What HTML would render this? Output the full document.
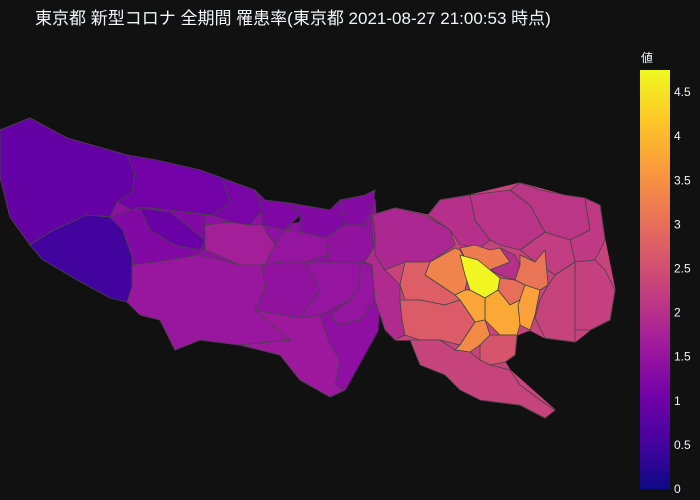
<!DOCTYPE html>
<html><head><meta charset="utf-8">
<style>
html,body{margin:0;padding:0;background:#111111;}
#wrap{position:relative;width:700px;height:500px;background:#111111;overflow:hidden;font-family:"Liberation Sans","Noto Sans CJK JP",sans-serif;}
#title{position:absolute;left:35px;top:4px;color:#f2f5fa;font-size:17px;white-space:nowrap;}
</style></head>
<body>
<div id="wrap">
<div id="title">東京都 新型コロナ 全期間 罹患率(東京都 2021-08-27 21:00:53 時点)</div>
<svg id="svg" width="700" height="500" style="position:absolute;left:0;top:0"></svg>
</div>
<script>
const regionNames=["okutama","hinohara","ome","hinode-band","hinode","hachioji","machida","mizuho","hamura","higashimurayama","kiyose","tachikawa","kodaira","nishitokyo","hino-tama","fuchu","inagi-chofu","western-wards-border","nerima","itabashi","kita","adachi","katsushika","edogawa","arakawa","koto-sumida","toshima","bunkyo","taito","nakano","shinjuku","chiyoda","chuo","minato","shibuya","suginami","setagaya","meguro","shinagawa","ota"];
const values=[0.9,0.5,1.05,1.25,0.95,1.55,1.6,1.15,1.2,1.25,1.3,1.7,1.5,1.45,1.45,1.5,1.5,1.9,1.85,2.0,2.05,2.1,2.15,2.25,2.2,2.3,3.2,2.0,3.1,3.3,4.7,3.0,3.7,3.8,3.75,2.75,2.7,3.4,2.6,2.3];
const backdropValues=[1.4,2.3];
const colorTicks=[0,0.5,1,1.5,2,2.5,3,3.5,4,4.5];
const tickLabels=["0","0.5","1","1.5","2","2.5","3","3.5","4","4.5"];
const cMin=0,cMax=4.75;
// geometry (map outlines)
const backdrops=[
"0,130 30,118 67,138 127,155 200,170 222,178 230,203 267,215 287,225 333,215 370,193 375,200 376,215 380,270 378,330 345,390 330,397 300,380 280,355 240,345 200,340 175,350 160,320 127,302 43,260 30,245 10,217 0,177",
"372,215 395,208 428,215 440,200 470,195 520,183 600,205 605,240 615,290 610,320 590,330 575,342 545,338 530,330 517,335 515,355 505,362 510,370 555,410 545,418 520,405 480,400 445,375 410,340 395,340 380,300 376,260"
];
const shapes=[
"0,130 30,118 67,138 127,155 135,173 132,193 117,202 110,217 87,215 50,232 30,245 10,217 0,177",
"30,245 50,232 87,215 110,217 123,230 132,257 132,287 127,302 110,298 77,280 43,260",
"127,155 157,160 200,170 222,178 230,203 212,215 170,210 140,215 117,202 132,193 135,173",
"110,217 140,207 170,210 205,215 205,250 180,262 150,265 135,270 132,257 123,230",
"140,208 170,212 205,240 200,250 175,245 150,230",
"132,287 132,265 155,262 200,255 240,265 265,265 265,290 255,310 300,318 290,340 240,345 200,340 175,350 160,320 140,315 127,302",
"255,310 300,318 320,315 330,345 340,360 335,385 345,390 330,397 300,380 280,355 240,345 290,340",
"222,178 255,190 262,210 250,225 230,222 212,215 230,203",
"255,190 265,200 290,203 300,215 285,230 262,225 262,210",
"290,203 330,210 340,200 345,225 325,238 300,232 300,215",
"340,200 365,195 375,190 372,210 365,225 345,225",
"230,222 250,225 262,225 275,245 265,265 240,265 205,250 205,225",
"275,245 285,230 300,232 325,238 330,255 305,262 280,262 265,265",
"325,238 345,225 365,225 375,245 365,262 330,262",
"262,265 280,262 305,262 325,270 320,290 300,318 255,310 265,290",
"305,262 330,262 360,262 360,285 350,300 320,315 300,318 320,290",
"360,262 372,265 375,300 360,320 338,325 330,315 350,300 360,285",
"375,230 375,255 385,270 400,285 400,300 402,320 405,335 395,340 385,330 375,300 372,265 365,262 375,245 372,215",
"372,215 395,208 425,215 450,230 455,245 430,262 405,262 385,270 375,255 375,230",
"428,215 440,200 470,195 475,220 490,240 480,248 460,245 450,230",
"470,195 510,190 530,205 545,232 520,250 500,245 490,240 475,220",
"510,190 520,183 540,190 565,195 585,198 590,230 570,240 545,232 530,205",
"585,198 600,205 605,240 595,260 575,262 570,240 590,230",
"595,260 605,270 615,290 610,320 590,330 575,330 575,300 575,262",
"545,232 570,240 575,262 555,275 535,262 520,250",
"555,275 575,262 575,330 575,342 560,340 545,338 535,318 540,300 548,285",
"460,248 475,245 490,250 500,248 510,262 490,270 470,268",
"500,248 515,255 520,265 515,280 500,275 490,270 510,262",
"520,255 535,262 545,250 548,285 540,290 525,285 515,280 520,265",
"430,262 455,248 460,250 470,268 465,290 455,295 440,285 425,275",
"460,255 478,260 490,270 500,278 498,290 485,298 470,290 465,275",
"500,278 515,280 525,285 520,300 510,305 498,290",
"525,285 540,290 535,315 530,330 520,325 518,305",
"498,290 510,305 520,300 518,305 520,325 517,335 500,335 485,320 485,298",
"455,295 465,290 470,290 485,298 485,320 475,322 460,300",
"405,262 430,262 425,275 440,285 455,295 460,300 445,305 420,300 405,300 400,285",
"400,300 420,300 445,305 460,300 475,322 460,345 440,340 420,340 405,335 402,320",
"460,345 475,322 485,320 490,335 480,345 470,352 455,350",
"480,345 490,335 500,335 517,335 515,355 505,362 490,365 480,360",
"410,340 440,340 455,350 470,352 480,360 490,365 510,370 520,385 540,400 555,410 545,418 520,405 480,400 460,390 445,375 420,365"
];
const stops=[[0,"#0d0887"],[0.111,"#46039f"],[0.222,"#7201a8"],[0.333,"#9c179e"],[0.444,"#bd3786"],[0.555,"#d8576b"],[0.666,"#ed7953"],[0.777,"#fb9f3a"],[0.888,"#fdca26"],[1,"#f0f921"]];
function hex(h){return [1,3,5].map(i=>parseInt(h.substr(i,2),16));}
function colorFor(v){
  let t=Math.max(0,Math.min(1,(v-cMin)/(cMax-cMin)));
  for(let i=1;i<stops.length;i++){
    if(t<=stops[i][0]){
      const a=hex(stops[i-1][1]),b=hex(stops[i][1]);
      const f=(t-stops[i-1][0])/(stops[i][0]-stops[i-1][0]);
      return "rgb("+a.map((x,k)=>Math.round(x+(b[k]-x)*f)).join(",")+")";
    }
  }
  return stops[stops.length-1][1];
}
const NS="http://www.w3.org/2000/svg";
const svg=document.getElementById("svg");
for(let i=0;i<backdrops.length;i++){
  const b=document.createElementNS(NS,"polygon");
  b.setAttribute("points",backdrops[i]);
  b.setAttribute("fill",colorFor(backdropValues[i]));
  b.setAttribute("stroke",colorFor(backdropValues[i]));
  b.setAttribute("stroke-width","1");
  
  
  svg.appendChild(b);
}
for(let i=0;i<shapes.length;i++){
  const p=document.createElementNS(NS,"polygon");
  p.setAttribute("points",shapes[i]);
  p.setAttribute("fill",colorFor(values[i]));
  p.setAttribute("stroke","#444444");
  p.setAttribute("stroke-width","0.8");
  
  
  svg.appendChild(p);
}
// colorbar
const cbX=640,cbW=30,cbTop=70,cbBot=489;
function yScale(v){return cbBot-(v-cMin)/(cMax-cMin)*(cbBot-cbTop);}
const defs=document.createElementNS(NS,"defs");
const lg=document.createElementNS(NS,"linearGradient");
lg.setAttribute("id","plasma");lg.setAttribute("x1","0");lg.setAttribute("y1","1");lg.setAttribute("x2","0");lg.setAttribute("y2","0");
stops.forEach(s=>{const st=document.createElementNS(NS,"stop");st.setAttribute("offset",s[0]);st.setAttribute("stop-color",s[1]);lg.appendChild(st);});
defs.appendChild(lg);svg.appendChild(defs);
const bar=document.createElementNS(NS,"rect");
bar.setAttribute("x",cbX);bar.setAttribute("y",cbTop);bar.setAttribute("width",cbW);bar.setAttribute("height",cbBot-cbTop);
bar.setAttribute("fill","url(#plasma)");


svg.appendChild(bar);
for(let i=0;i<colorTicks.length;i++){
  const t=document.createElementNS(NS,"text");
  t.setAttribute("x",cbX+cbW+4);t.setAttribute("y",yScale(colorTicks[i])+4);
  t.setAttribute("fill","#f2f5fa");t.setAttribute("font-size","12");
  t.setAttribute("font-family","Liberation Sans, sans-serif");
  t.textContent=tickLabels[i];
  
  
  svg.appendChild(t);
}
const ct=document.createElementNS(NS,"text");
ct.setAttribute("x",cbX+1);ct.setAttribute("y",cbTop-8);
ct.setAttribute("fill","#f2f5fa");ct.setAttribute("font-size","12");
ct.setAttribute("font-family","Liberation Sans, Noto Sans CJK JP, sans-serif");
ct.textContent="値";


svg.appendChild(ct);
</script>
</body></html>
